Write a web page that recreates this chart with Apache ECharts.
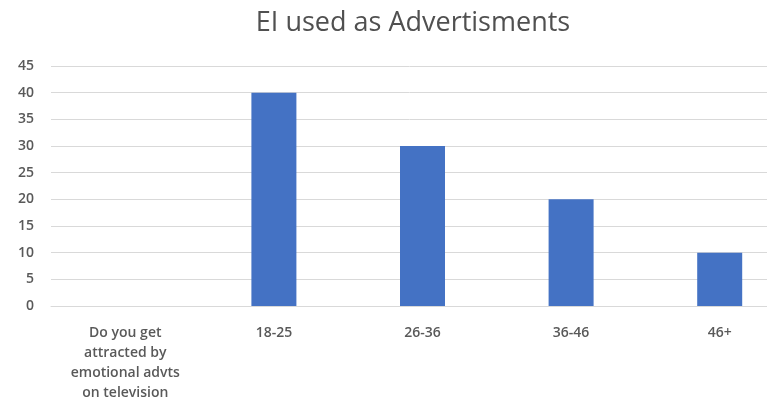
<!DOCTYPE html>
<html lang="en">
<head>
	<meta charset="UTF-8">
	<title>EI used as Advertisments</title>
	<script src="https://cdn.jsdelivr.net/npm/echarts@6/dist/echarts.min.js"></script>
	<style>
		html, body { margin: 0; padding: 0; background: #fff; }
	</style>
</head>
<body>
	<div id="main" style="width: 767px;height:402px;"></div>
	<script type="text/javascript">
		// data
		var categories = ['Do you get\nattracted by\nemotional advts\non television', '18-25', '26-36', '36-46', '46+'];
		var values = [0, 40, 30, 20, 10];
		var yTicks = { min: 0, max: 45, interval: 5 };

		var myChart = echarts.init(document.getElementById('main'));

		var option = {
			animation: false,
			title: {
				text: 'EI used as Advertisments',
				left: 408,
				textAlign: 'center',
				top: 5,
				textStyle: {
					fontFamily: 'Open Sans',
					fontSize: 27,
					fontWeight: 'normal',
					color: '#505050'
				}
			},
			grid: {
				left: 51,
				top: 66,
				width: 743,
				height: 240,
				containLabel: false,
				outerBoundsMode: 'none'
			},
			xAxis: {
				type: 'category',
				data: categories,
				axisLine: { lineStyle: { color: '#d9d9d9', width: 1 } },
				axisTick: { show: false },
				axisLabel: {
					interval: 0,
					margin: 17,
					lineHeight: 20,
					color: '#595959',
					fontFamily: 'Open Sans',
					fontWeight: 600,
					fontSize: 14
				}
			},
			yAxis: {
				type: 'value',
				min: yTicks.min,
				max: yTicks.max,
				interval: yTicks.interval,
				axisLine: { show: false },
				axisTick: { show: false },
				splitLine: { lineStyle: { color: '#d9d9d9', width: 1 } },
				axisLabel: {
					margin: 17,
					color: '#595959',
					fontFamily: 'Open Sans',
					fontWeight: 600,
					fontSize: 14
				}
			},
			series: [{
				type: 'bar',
				data: values,
				barWidth: 45,
				itemStyle: { color: '#4472C4' }
			}]
		};

		myChart.setOption(option);
	</script>
</body>
</html>
